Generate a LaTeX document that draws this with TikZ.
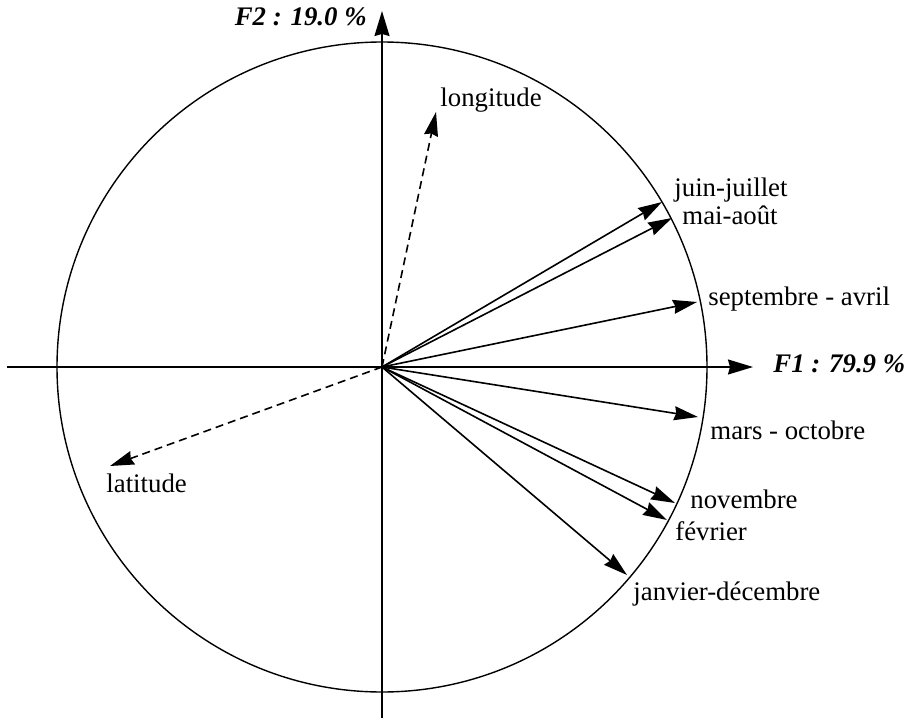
\documentclass[tikz,border=0pt]{standalone}
\usepackage{fontspec}
\setmainfont{Liberation Serif}
\usetikzlibrary{arrows.meta,calc}

\begin{document}
\begin{tikzpicture}[
  x=0.5pt, y=-0.5pt,
  font=\fontsize{13.4}{16}\selectfont,
  axe/.style={-{Stealth[length=12.5pt,width=7.5pt,inset=1pt]},line width=0.8pt},
  var/.style={-{Stealth[length=12pt,width=7pt,inset=1pt]},line width=0.8pt},
  supp/.style={var,dash pattern=on 4pt off 2.5pt},
  lab/.style={anchor=base west,inner sep=0pt},
  titre/.style={inner sep=0pt,font=\fontsize{13.4}{16}\selectfont\bfseries\itshape}
  ]
  \useasboundingbox (0,0) rectangle (905,722);

  \coordinate (O) at (382,367);
  \coordinate (xg) at (7,367);
  \coordinate (xd) at (753,367);
  \coordinate (yh) at (382,11);
  \coordinate (yb) at (382,718);

  \draw[line width=0.7pt] (O) circle[radius=325];

  \path
  (xg) edge[axe] (xd)
  (yb) edge[axe] (yh);

  \coordinate (tlon) at (436,112);
  \coordinate (tjj)  at (662,202);
  \coordinate (tma)  at (672,218);
  \coordinate (tsa)  at (697,302);
  \coordinate (tmo)  at (698,417);
  \coordinate (tnov) at (675,503);
  \coordinate (tfev) at (667,520);
  \coordinate (tjd)  at (627,575);
  \coordinate (tlat) at (110,466);

  \path
  (O) edge[var] (tjj)
  (O) edge[var] (tma)
  (O) edge[var] (tsa)
  (O) edge[var] (tmo)
  (O) edge[var] (tnov)
  (O) edge[var] (tfev)
  (O) edge[var] (tjd)
  (O) edge[supp] (tlon)
  (O) edge[supp] (tlat);

  \path (tlon) ++(4,-5)  node[lab] (llon) {longitude};
  \path (tjj)  ++(12,-5) node[lab] (ljj)  {juin-juillet};
  \path (tma)  ++(10,6)  node[lab] (lma)  {mai-août};
  \path (tsa)  ++(11,3)  node[lab] (lsa)  {septembre - avril};
  \path (tmo)  ++(12,22) node[lab] (lmo)  {mars - octobre};
  \path (tnov) ++(15,5)  node[lab] (lnov) {novembre};
  \path (tfev) ++(8,20)  node[lab] (lfev) {février};
  \path (tjd)  ++(6,25)  node[lab] (ljd)  {janvier-décembre};
  \path (tlat) ++(-4,26) node[lab] (llat) {latitude};

  \path (xd) ++(20,5)   node[titre,anchor=base west] (f1) {F1 : 79.9 \%};
  \path (yh) ++(-15,15) node[titre,anchor=base east] (f2) {F2 : 19.0 \%};
\end{tikzpicture}
\end{document}
